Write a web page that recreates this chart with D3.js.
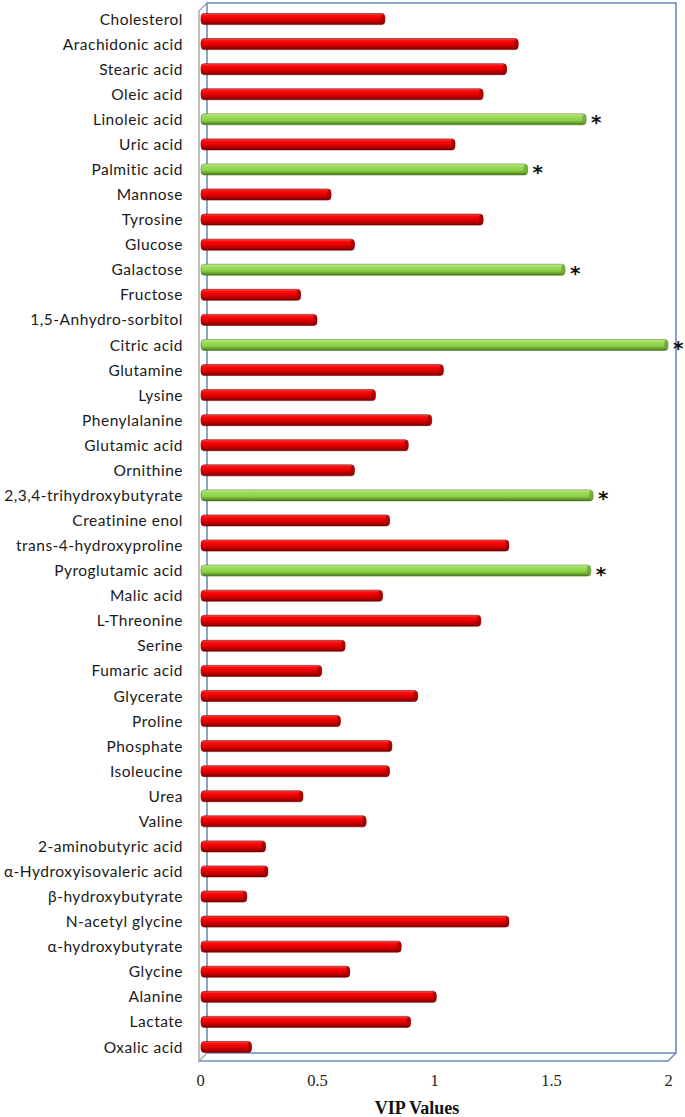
<!DOCTYPE html>
<html>
<head>
<meta charset="utf-8">
<script src="https://cdn.jsdelivr.net/npm/d3@7"></script>
<style>
  body { margin: 0; background: #fff; }
  .lab { font-family: Lato, "Open Sans", sans-serif; font-size: 15.5px; letter-spacing: 0.5px; fill: #1a1a1a; }
  .tick text { font-family: "Liberation Serif", serif; font-size: 16.5px; fill: #222; }
</style>
</head>
<body>
<div id="chart"></div>
<script>
var width = 685,
    height = 1117;

// metabolites, top to bottom
var names = ["Cholesterol", "Arachidonic acid", "Stearic acid", "Oleic acid", "Linoleic acid",
  "Uric acid", "Palmitic acid", "Mannose", "Tyrosine", "Glucose", "Galactose", "Fructose",
  "1,5-Anhydro-sorbitol", "Citric acid", "Glutamine", "Lysine", "Phenylalanine", "Glutamic acid",
  "Ornithine", "2,3,4-trihydroxybutyrate", "Creatinine enol", "trans-4-hydroxyproline",
  "Pyroglutamic acid", "Malic acid", "L-Threonine", "Serine", "Fumaric acid", "Glycerate",
  "Proline", "Phosphate", "Isoleucine", "Urea", "Valine", "2-aminobutyric acid",
  "α-Hydroxyisovaleric acid", "β-hydroxybutyrate", "N-acetyl glycine", "α-hydroxybutyrate",
  "Glycine", "Alanine", "Lactate", "Oxalic acid"];

var vip = [0.79, 1.36, 1.31, 1.21, 1.65, 1.09, 1.40, 0.56, 1.21, 0.66, 1.56, 0.43,
  0.50, 2.00, 1.04, 0.75, 0.99, 0.89, 0.66, 1.68, 0.81, 1.32, 1.67, 0.78, 1.20, 0.62,
  0.52, 0.93, 0.60, 0.82, 0.81, 0.44, 0.71, 0.28, 0.29, 0.20, 1.32, 0.86, 0.64, 1.01,
  0.90, 0.22];

// significant ones, drawn green with a star
var significant = ["Linoleic acid", "Palmitic acid", "Galactose", "Citric acid",
  "2,3,4-trihydroxybutyrate", "Pyroglutamic acid"];

var xTicks = [0, 0.5, 1, 1.5, 2];

var data = names.map(function(n, i){ return {name: n, value: vip[i], sig: significant.indexOf(n) >= 0}; });

var svg = d3.select("#chart").append("svg")
    .attr("width", width)
    .attr("height", height);

var x = d3.scaleLinear()
    .domain([0, 2])
    .range([200, 668]);

var y = d3.scaleBand()
    .domain(names)
    .range([6.5, 1059.5])
    .paddingInner(0.56)
    .paddingOuter(0.28);

var dx = 8, dy = 8;   // depth offset of the 3d box

var defs = svg.append("defs");
function cyl(id, stops){
  var g = defs.append("linearGradient").attr("id", id)
      .attr("x1", 0).attr("y1", 0).attr("x2", 0).attr("y2", 1);
  stops.forEach(function(s){
    g.append("stop").attr("offset", s[0]).attr("stop-color", s[1]);
  });
}
cyl("redgrad", [[0, "#f05050"], [0.2, "#ff0a0a"], [0.55, "#e00000"], [0.85, "#a00000"], [1, "#6a0000"]]);
cyl("greengrad", [[0, "#c8ec9c"], [0.25, "#9bdc55"], [0.6, "#8ccf48"], [0.85, "#5f9a2a"], [1, "#3f6d18"]]);

// box: back wall, side wall and floor
var boxL = x(0) - 1, boxR = x(2), boxT = 3, boxB = 1053;
svg.append("rect")
    .attr("x", boxL + dx).attr("y", boxT)
    .attr("width", boxR - boxL)
    .attr("height", boxB - boxT)
    .attr("fill", "none")
    .attr("stroke", "#4a74a8")
    .attr("stroke-width", 1.3);

svg.append("path")
    .attr("d", "M" + (boxL + dx) + "," + boxT + " L" + boxL + "," + (boxT + dy) +
               " L" + boxL + "," + (boxB + dy) + " L" + (boxL + dx) + "," + boxB)
    .attr("fill", "none")
    .attr("stroke", "#a8a8a8")
    .attr("stroke-width", 1.5);

svg.append("path")
    .attr("d", "M" + boxL + "," + (boxB + dy) + " L" + boxR + "," + (boxB + dy) +
               " L" + (boxR + dx) + "," + boxB)
    .attr("fill", "none")
    .attr("stroke", "#6f8fb8")
    .attr("stroke-width", 1.5);

// bars
var bars = svg.selectAll(".bar")
    .data(data)
    .enter().append("g")
    .attr("class", "bar");

bars.append("rect")
    .attr("x", x(0) + 1)
    .attr("y", function(d){ return y(d.name); })
    .attr("width", function(d){ return x(d.value) - x(0) - 1; })
    .attr("height", y.bandwidth())
    .attr("rx", 3).attr("ry", 4)
    .attr("fill", function(d){ return d.sig ? "url(#greengrad)" : "url(#redgrad)"; })
    .attr("stroke", function(d){ return d.sig ? "#5a8a2a" : "#8a0000"; })
    .attr("stroke-width", 0.6);

// little cap on the bar end
bars.append("ellipse")
    .attr("cx", function(d){ return x(d.value) - 2; })
    .attr("cy", function(d){ return y(d.name) + y.bandwidth() / 2; })
    .attr("rx", 2)
    .attr("ry", y.bandwidth() / 2 - 0.5)
    .attr("fill", function(d){ return d.sig ? "#6c9e38" : "#9a0000"; })
    .attr("opacity", 0.7);

svg.selectAll(".star")
    .data(data.filter(function(d){ return d.sig; }))
    .enter().append("text")
    .attr("class", "star")
    .attr("x", function(d){ return x(d.value) + 5; })
    .attr("y", function(d){ return y(d.name) + y.bandwidth() / 2 + 10; })
    .attr("font-family", "DejaVu Sans, sans-serif")
    .attr("font-weight", "bold")
    .attr("font-size", 20)
    .attr("fill", "#111")
    .text("*");

// category labels
svg.selectAll(".lab")
    .data(names)
    .enter().append("text")
    .attr("class", "lab")
    .attr("x", 183)
    .attr("y", function(d){ return y(d) + y.bandwidth() / 2; })
    .attr("dy", "0.36em")
    .attr("text-anchor", "end")
    .text(function(d){ return d; });

// x axis
var xAxis = d3.axisBottom(x)
    .tickValues(xTicks)
    .tickSize(0)
    .tickPadding(0)
    .tickFormat(function(d){ return String(d); });

svg.append("g")
    .attr("transform", "translate(0,1074)")
    .call(xAxis)
    .call(function(g){ g.select(".domain").remove(); });

svg.append("text")
    .attr("x", 417)
    .attr("y", 1114)
    .attr("text-anchor", "middle")
    .attr("font-family", "Liberation Serif, serif")
    .attr("font-weight", "bold")
    .attr("font-size", 18)
    .attr("fill", "#111")
    .text("VIP Values");
</script>
</body>
</html>
